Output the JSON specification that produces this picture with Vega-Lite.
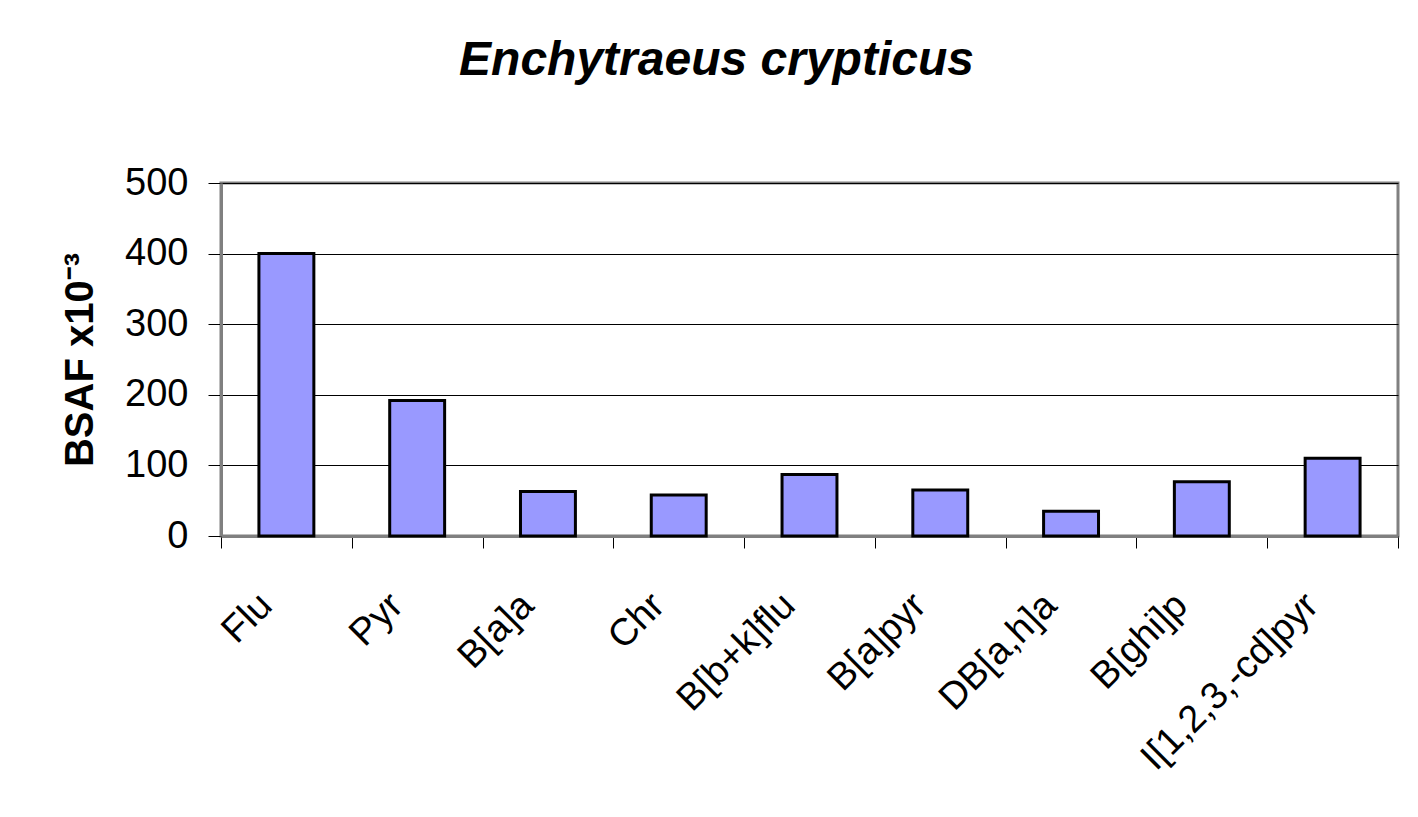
{
  "$schema": "https://vega.github.io/schema/vega-lite/v6.json",
  "autosize": {"type": "none"},
  "width": 1177,
  "height": 353,
  "padding": {"left": 221, "top": 183, "right": 20, "bottom": 281},
  "background": "white",
  "title": {
    "text": "Enchytraeus crypticus",
    "fontSize": 48,
    "font": "Liberation Sans",
    "fontStyle": "italic",
    "fontWeight": "bold",
    "color": "black",
    "anchor": "middle",
    "dx": -93,
    "baseline": "alphabetic",
    "offset": 41
  },
  "config": {
    "view": {"stroke": "#808080", "strokeWidth": 3},
    "font": "Liberation Sans"
  },
  "data": {
    "values": [
      {"compound": "Flu", "bsaf": 400},
      {"compound": "Pyr", "bsaf": 192},
      {"compound": "B[a]a", "bsaf": 63},
      {"compound": "Chr", "bsaf": 58},
      {"compound": "B[b+k]flu", "bsaf": 87},
      {"compound": "B[a]pyr", "bsaf": 65},
      {"compound": "DB[a,h]a", "bsaf": 35},
      {"compound": "B[ghi]p", "bsaf": 77},
      {"compound": "I[1,2,3,-cd]pyr", "bsaf": 110}
    ]
  },
  "mark": {"type": "bar", "fill": "#9999FF", "stroke": "black", "strokeWidth": 3, "width": {"band": 0.42}},
  "encoding": {
    "x": {
      "field": "compound",
      "type": "nominal",
      "sort": null,
      "scale": {"paddingInner": 0, "paddingOuter": 0},
      "axis": {
        "title": null,
        "labelAngle": -45,
        "labelAlign": "right",
        "labelBaseline": "top",
        "labelFontSize": 38,
        "labelColor": "black",
        "labelPadding": 38,
        "labelOffset": -34,
        "labelLimit": 0,
        "tickBand": "extent",
        "tickSize": 12,
        "tickColor": "#000000",
        "tickWidth": 1,
        "domainColor": "#808080",
        "domainWidth": 3,
        "grid": false,
        "labelOverlap": false
      }
    },
    "y": {
      "field": "bsaf",
      "type": "quantitative",
      "scale": {"domain": [0, 500], "nice": false},
      "axis": {
        "title": "BSAF x10⁻³",
        "titleFontSize": 40,
        "titleFontWeight": "bold",
        "titleColor": "black",
        "titlePadding": 24,
        "values": [0, 100, 200, 300, 400, 500],
        "labelFontSize": 38,
        "labelColor": "black",
        "labelPadding": 20,
        "tickSize": 13,
        "tickColor": "#000000",
        "tickWidth": 1,
        "domainColor": "#808080",
        "domainWidth": 3,
        "grid": true,
        "gridColor": "#000000",
        "gridWidth": 1,
        "gridOpacity": 1
      }
    }
  }
}
